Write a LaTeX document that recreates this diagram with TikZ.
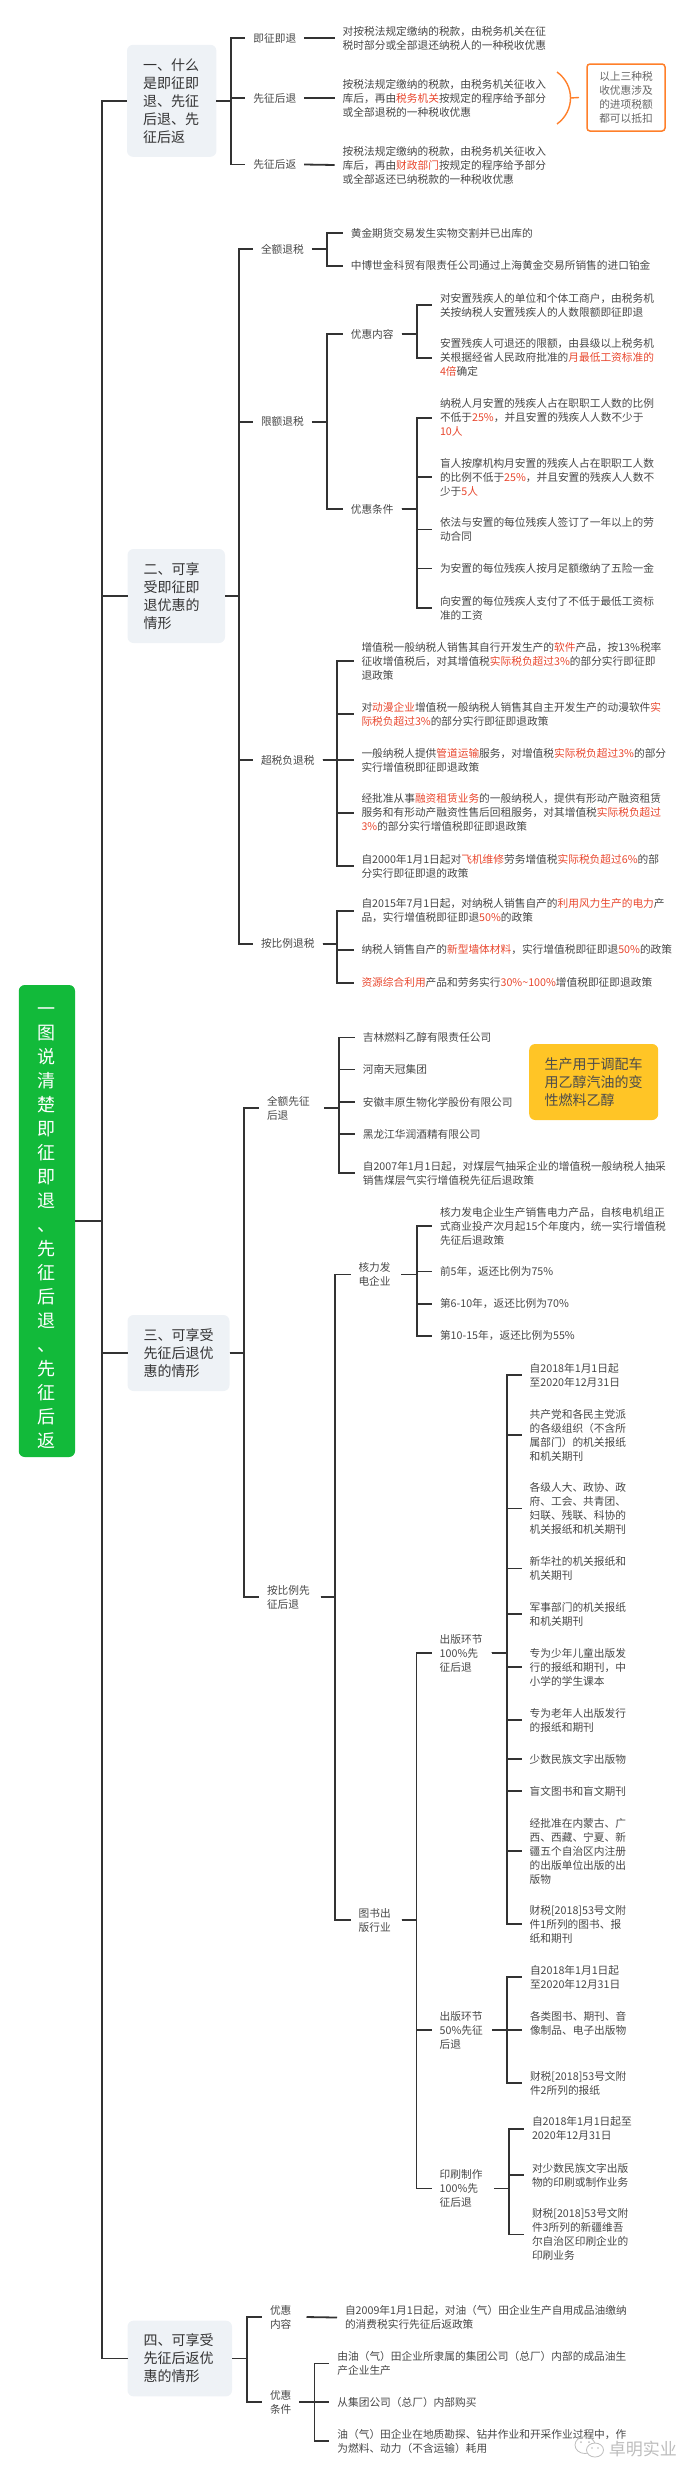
\documentclass[tikz,border=0pt]{standalone}
\usepackage{fontspec}
\setmainfont{Noto Sans CJK SC}
\usepackage{tikz}
\definecolor{inkGray}{HTML}{474747}
\definecolor{wireDark}{HTML}{333333}
\definecolor{hotRed}{HTML}{E8472E}
\definecolor{panelGray}{HTML}{EEF2F6}
\definecolor{rootGreen}{HTML}{12BA3A}
\definecolor{noteOrange}{HTML}{FF7F2A}
\definecolor{noteYellow}{HTML}{FFC526}
\definecolor{markGray}{HTML}{BDBDBD}
\newcommand{\hot}[1]{\textcolor{hotRed}{#1}}

\begin{document}
\begin{tikzpicture}[x=1pt, y=-1pt,
  wire/.style={draw=wireDark, line width=1.8pt},
  leaf/.style={anchor=west, inner sep=0pt, outer xsep=8pt, outer ysep=0pt, align=left, text=inkGray,
    font=\fontsize{10.7}{14}\selectfont},
  groupbox/.style={anchor=west, fill=panelGray, rounded corners=6pt, inner xsep=16pt, inner ysep=0pt,
    outer sep=0pt, align=left, text=black!80, font=\fontsize{14}{18}\selectfont},
  rootbox/.style={fill=rootGreen, rounded corners=6pt, inner sep=0pt, outer sep=0pt, align=center,
    text=white, minimum width=56.3pt, minimum height=472pt, font=\fontsize{18}{24}\selectfont},
  notebox/.style={anchor=west, draw=noteOrange, line width=1.5pt, rounded corners=3pt, inner xsep=8pt,
    inner ysep=0pt, outer xsep=8pt, outer ysep=0pt, minimum width=78pt, minimum height=67pt,
    align=left, text=black!60, font=\fontsize{10.7}{14}\selectfont},
  hintbox/.style={anchor=west, fill=noteYellow, rounded corners=6pt, inner xsep=15.5pt, inner ysep=0pt,
    minimum height=76pt, align=left, text=black!70, font=\fontsize{14}{18}\selectfont}]
  \useasboundingbox (0, 0) rectangle (700, 2479);
  \node[rootbox] (root) at (46.9, 1221) {\rule{0pt}{22pt}一\\图\\说\\清\\楚\\即\\征\\即\\退\\、\\先\\征\\后\\退\\、\\先\\征\\后\\返};

  \node[groupbox, text width=57.4pt, minimum height=112pt] (groupa) at (127, 100.8) {一、什么\\是即征即\\退、先征\\后退、先\\征后返};
  \node[leaf] (la1) at (245.4, 38) {即征即退};
  \node[leaf] (la2) at (245.4, 98) {先征后退};
  \node[leaf] (la3) at (245.4, 164.5) {先征后返};
  \node[leaf] (ta1) at (334.7, 38) {对按税法规定缴纳的税款，由税务机关在征\\税时部分或全部退还纳税人的一种税收优惠};
  \node[leaf] (ta2) at (334.7, 98) {按税法规定缴纳的税款，由税务机关征收入\\库后，再由\hot{税务机关}按规定的程序给予部分\\或全部退税的一种税收优惠};
  \node[leaf] (ta3) at (334.7, 165) {按税法规定缴纳的税款，由税务机关征收入\\库后，再由\hot{财政部门}按规定的程序给予部分\\或全部返还已纳税款的一种税收优惠};
  \node[notebox] (allnote) at (579, 97.5) {以上三种税\\收优惠涉及\\的进项税额\\都可以抵扣};
  \coordinate (bracetip) at (570.5, 98);
  \draw[noteOrange, line width=1.4pt] (557, 72) .. controls (575, 85) and (575, 111) .. (557, 124);
  \draw[noteOrange, line width=1.4pt] (bracetip) -- (allnote.west);

  \node[groupbox, text width=65.5pt, minimum height=94pt] (groupb) at (127.5, 596) {二、可享\\受即征即\\退优惠的\\情形};
  \node[leaf] (lb1) at (253, 249) {全额退税};
  \node[leaf] (lb2) at (253, 421.7) {限额退税};
  \node[leaf] (lb3) at (253, 760) {超税负退税};
  \node[leaf] (lb4) at (253, 943.7) {按比例退税};
  \node[leaf] (tb1) at (342.8, 233) {黄金期货交易发生实物交割并已出库的};
  \node[leaf] (tb2) at (342.8, 265.7) {中博世金科贸有限责任公司通过上海黄金交易所销售的进口铂金};
  \node[leaf] (lc1) at (342.8, 334) {优惠内容};
  \node[leaf] (lc2) at (342.8, 509) {优惠条件};
  \node[leaf] (tc1) at (432, 305) {对安置残疾人的单位和个体工商户，由税务机\\关按纳税人安置残疾人的人数限额即征即退};
  \node[leaf] (tc2) at (432, 357.7) {安置残疾人可退还的限额，由县级以上税务机\\关根据经省人民政府批准的\hot{月最低工资标准的}\\\hot{4倍}确定};
  \node[leaf] (td1) at (432, 417.7) {纳税人月安置的残疾人占在职职工人数的比例\\不低于\hot{25\%}，并且安置的残疾人人数不少于\\\hot{10人}};
  \node[leaf] (td2) at (432, 477) {盲人按摩机构月安置的残疾人占在职职工人数\\的比例不低于\hot{25\%}，并且安置的残疾人人数不\\少于\hot{5人}};
  \node[leaf] (td3) at (432, 529.5) {依法与安置的每位残疾人签订了一年以上的劳\\动合同};
  \node[leaf] (td4) at (432, 568.5) {为安置的每位残疾人按月足额缴纳了五险一金};
  \node[leaf] (td5) at (432, 608) {向安置的每位残疾人支付了不低于最低工资标\\准的工资};
  \node[leaf] (te1) at (353.5, 661) {增值税一般纳税人销售其自行开发生产的\hot{软件}产品，按13\%税率\\征收增值税后，对其增值税\hot{实际税负超过3\%}的部分实行即征即\\退政策};
  \node[leaf] (te2) at (353.5, 714) {对\hot{动漫企业}增值税一般纳税人销售其自主开发生产的动漫软件\hot{实}\\\hot{际税负超过3\%}的部分实行即征即退政策};
  \node[leaf] (te3) at (353.5, 760) {一般纳税人提供\hot{管道运输}服务，对增值税\hot{实际税负超过3\%}的部分\\实行增值税即征即退政策};
  \node[leaf] (te4) at (353.5, 812.7) {经批准从事\hot{融资租赁业务}的一般纳税人，提供有形动产融资租赁\\服务和有形动产融资性售后回租服务，对其增值税\hot{实际税负超过}\\\hot{3\%}的部分实行增值税即征即退政策};
  \node[leaf] (te5) at (353.5, 866) {自2000年1月1日起对\hot{飞机维修}劳务增值税\hot{实际税负超过6\%}的部\\分实行即征即退的政策};
  \node[leaf] (tf1) at (353.5, 911) {自2015年7月1日起，对纳税人销售自产的\hot{利用风力生产的电力}产\\品，实行增值税即征即退\hot{50\%}的政策};
  \node[leaf] (tf2) at (353.5, 950) {纳税人销售自产的\hot{新型墙体材料}，实行增值税即征即退\hot{50\%}的政策};
  \node[leaf] (tf3) at (353.5, 982.7) {\hot{资源综合利用}产品和劳务实行\hot{30\%\textasciitilde100\%}增值税即征即退政策};

  \node[groupbox, text width=70pt, minimum height=76pt] (groupc) at (127.5, 1353) {三、可享受\\先征后退优\\惠的情形};
  \node[leaf, text width=49pt] (ld1) at (259, 1108) {全额先征\\后退};
  \node[leaf, text width=45.7pt] (ld2) at (259, 1597) {按比例先\\征后退};
  \node[leaf] (tg1) at (354.8, 1037.5) {吉林燃料乙醇有限责任公司};
  \node[leaf] (tg2) at (354.8, 1069.5) {河南天冠集团};
  \node[leaf] (tg3) at (354.8, 1102) {安徽丰原生物化学股份有限公司};
  \node[leaf] (tg4) at (354.8, 1134) {黑龙江华润酒精有限公司};
  \node[leaf] (tg5) at (354.8, 1173) {自2007年1月1日起，对煤层气抽采企业的增值税一般纳税人抽采\\销售煤层气实行增值税先征后退政策};
  \node[hintbox, text width=98pt] (ethanol) at (529, 1082) {生产用于调配车\\用乙醇汽油的变\\性燃料乙醇};

  \node[leaf, text width=34.8pt] (le1) at (350.5, 1274.5) {核力发\\电企业};
  \node[leaf, text width=34.8pt] (le2) at (350.7, 1920) {图书出\\版行业};
  \node[leaf] (ti1) at (432, 1226) {核力发电企业生产销售电力产品，自核电机组正\\式商业投产次月起15个年度内，统一实行增值税\\先征后退政策};
  \node[leaf] (ti2) at (432, 1271.5) {前5年，返还比例为75\%};
  \node[leaf] (ti3) at (432, 1304) {第6-10年，返还比例为70\%};
  \node[leaf] (ti4) at (432, 1336) {第10-15年，返还比例为55\%};

  \node[leaf, text width=44pt] (lf1) at (431.7, 1653) {出版环节\\100\%先\\征后退};
  \node[leaf, text width=44.6pt] (lf2) at (431.7, 2030) {出版环节\\50\%先征\\后退};
  \node[leaf, text width=46.3pt] (lf3) at (431.7, 2188.5) {印刷制作\\100\%先\\征后退};
  \node[leaf] (tj1) at (521.7, 1375.3) {自2018年1月1日起\\至2020年12月31日};
  \node[leaf] (tj2) at (521.7, 1435) {共产党和各民主党派\\的各级组织（不含所\\属部门）的机关报纸\\和机关期刊};
  \node[leaf] (tj3) at (521.7, 1508.5) {各级人大、政协、政\\府、工会、共青团、\\妇联、残联、科协的\\机关报纸和机关期刊};
  \node[leaf] (tj4) at (521.7, 1568.5) {新华社的机关报纸和\\机关期刊};
  \node[leaf] (tj5) at (521.7, 1614) {军事部门的机关报纸\\和机关期刊};
  \node[leaf] (tj6) at (521.7, 1667) {专为少年儿童出版发\\行的报纸和期刊，中\\小学的学生课本};
  \node[leaf] (tj7) at (521.7, 1720) {专为老年人出版发行\\的报纸和期刊};
  \node[leaf] (tj8) at (521.7, 1759) {少数民族文字出版物};
  \node[leaf] (tj9) at (521.7, 1791) {盲文图书和盲文期刊};
  \node[leaf] (tj10) at (521.7, 1851) {经批准在内蒙古、广\\西、西藏、宁夏、新\\疆五个自治区内注册\\的出版单位出版的出\\版物};
  \node[leaf] (tj11) at (521.7, 1924) {财税[2018]53号文附\\件1所列的图书、报\\纸和期刊};
  \node[leaf] (tk1) at (522, 1977) {自2018年1月1日起\\至2020年12月31日};
  \node[leaf] (tk2) at (522, 2023.5) {各类图书、期刊、音\\像制品、电子出版物};
  \coordinate (tkjoin) at (522, 2030);
  \node[leaf] (tk3) at (522, 2083) {财税[2018]53号文附\\件2所列的报纸};
  \node[leaf] (tl1) at (524, 2128.7) {自2018年1月1日起至\\2020年12月31日};
  \node[leaf] (tl2) at (524, 2175) {对少数民族文字出版\\物的印刷或制作业务};
  \node[leaf] (tl3) at (524, 2234.5) {财税[2018]53号文附\\件3所列的新疆维吾\\尔自治区印刷企业的\\印刷业务};

  \node[groupbox, text width=72.5pt, minimum height=75.7pt] (groupd) at (127.5, 2358.5) {四、可享受\\先征后返优\\惠的情形};
  \node[leaf, text width=28.5pt] (lh1) at (262, 2317) {优惠\\内容};
  \node[leaf, text width=21.4pt] (lh2) at (262, 2402) {优惠\\条件};
  \node[leaf] (th1) at (337, 2317.5) {自2009年1月1日起，对油（气）田企业生产自用成品油缴纳\\的消费税实行先征后返政策};
  \node[leaf] (tm1) at (329.4, 2363.5) {由油（气）田企业所隶属的集团公司（总厂）内部的成品油生\\产企业生产};
  \node[leaf] (tm2) at (329.4, 2402.3) {从集团公司（总厂）内部购买};
  \node[leaf] (tm3) at (329.4, 2441.3) {油（气）田企业在地质勘探、钻井作业和开采作业过程中，作\\为燃料、动力（不含运输）耗用};

  \foreach \kid in {groupa, groupb, groupc, groupd}
    \draw[wire] (root.east) -- ++(26.7, 0) |- (\kid.west);
  \foreach \kid in {la1, la2, la3}
    \draw[wire] (groupa.east) -- ++(14.3, 0) |- (\kid.west);
  \foreach \kid in {1, 2, 3}
    \draw[wire] (la\kid.east) -- (ta\kid.west);
  \foreach \kid in {lb1, lb2, lb3, lb4}
    \draw[wire] (groupb.east) -- ++(14.2, 0) |- (\kid.west);
  \foreach \kid in {tb1, tb2}
    \draw[wire] (lb1.east) -- ++(15, 0) |- (\kid.west);
  \foreach \kid in {lc1, lc2}
    \draw[wire] (lb2.east) -- ++(15, 0) |- (\kid.west);
  \foreach \kid in {tc1, tc2}
    \draw[wire] (lc1.east) -- ++(15.3, 0) |- (\kid.west);
  \foreach \kid in {td1, td2, td3, td4, td5}
    \draw[wire] (lc2.east) -- ++(15.3, 0) |- (\kid.west);
  \foreach \kid in {te1, te2, te3, te4, te5}
    \draw[wire] (lb3.east) -- ++(14.5, 0) |- (\kid.west);
  \foreach \kid in {tf1, tf2, tf3}
    \draw[wire] (lb4.east) -- ++(14.5, 0) |- (\kid.west);
  \foreach \kid in {ld1, ld2}
    \draw[wire] (groupc.east) -- ++(14.7, 0) |- (\kid.west);
  \foreach \kid in {tg1, tg2, tg3, tg4, tg5}
    \draw[wire] (ld1.east) -- ++(15.2, 0) |- (\kid.west);
  \foreach \kid in {le1, le2}
    \draw[wire] (ld2.east) -- ++(14.3, 0) |- (\kid.west);
  \foreach \kid in {ti1, ti2, ti3, ti4}
    \draw[wire] (le1.east) -- ++(15.3, 0) |- (\kid.west);
  \foreach \kid in {lf1, lf2, lf3}
    \draw[wire] (le2.east) -- ++(15, 0) |- (\kid.west);
  \foreach \kid in {tj1, tj2, tj3, tj4, tj5, tj6, tj7, tj8, tj9, tj10, tj11}
    \draw[wire] (lf1.east) -- ++(15, 0) |- (\kid.west);
  \foreach \kid in {tk1, tk3}
    \draw[wire] (lf2.east) -- ++(14.5, 0) |- (\kid.west);
  \draw[wire] (lf2.east) -- (tkjoin);
  \foreach \kid in {tl1, tl2, tl3}
    \draw[wire] (lf3.east) -- ++(15, 0) |- (\kid.west);
  \foreach \kid in {lh1, lh2}
    \draw[wire] (groupd.east) -- ++(14.8, 0) |- (\kid.west);
  \draw[wire] (lh1.east) -- (th1.west);
  \foreach \kid in {tm1, tm2, tm3}
    \draw[wire] (lh2.east) -- ++(15.1, 0) |- (\kid.west);

  \node[anchor=west, inner sep=0pt, text=markGray, font=\fontsize{17}{20}\selectfont] (brand) at (608.6, 2449) {卓明实业};
  \draw[markGray, line width=0.8pt] (585, 2445) ellipse (10 and 8.5);
  \draw[markGray, line width=0.8pt, fill=white] (595, 2450) ellipse (8.5 and 7);
  \fill[markGray] (581, 2442) circle (1) (589, 2442) circle (1) (592, 2448) circle (0.8) (598, 2448) circle (0.8);
\end{tikzpicture}
\end{document}
